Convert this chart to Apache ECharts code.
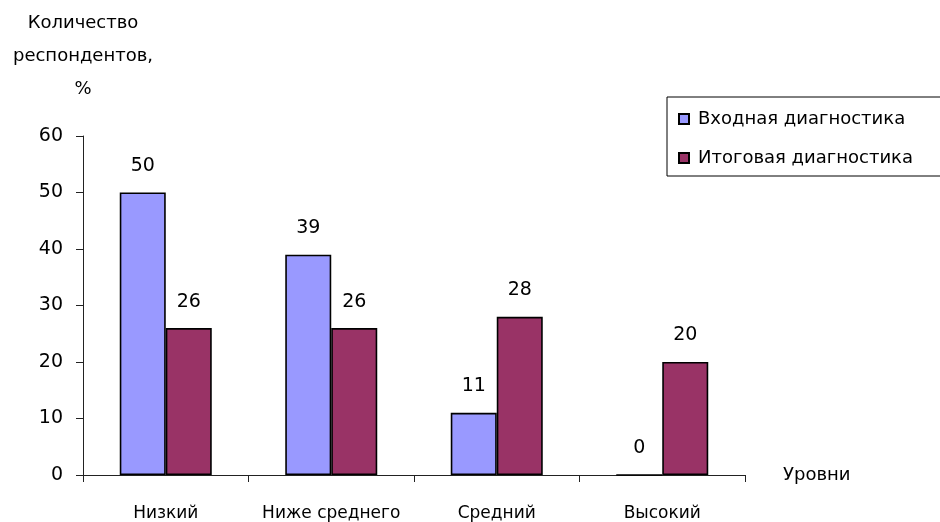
<!DOCTYPE html>
<html>
<head>
<meta charset="utf-8">
<script src="https://cdn.jsdelivr.net/npm/echarts@6/dist/echarts.min.js"></script>
<style>
html,body{margin:0;padding:0;background:#fff;}
#chart{width:940px;height:522px;}
</style>
</head>
<body>
<div id="chart"></div>
<script>
const categories = ['Низкий', 'Ниже среднего', 'Средний', 'Высокий'];
const seriesNames = ['Входная диагностика', 'Итоговая диагностика'];
const inputValues = [50, 39, 11, 0];
const finalValues = [26, 26, 28, 20];
const yTicks = [0, 10, 20, 30, 40, 50, 60];
const yAxisTitle = 'Количество\nреспондентов,\n%';
const xAxisTitle = 'Уровни';

const FONT = 'DejaVu Sans';
const chart = echarts.init(document.getElementById('chart'), null, {renderer: 'canvas'});

const labelCfg = {
  show: true, position: 'top', distance: 17,
  color: '#000', fontFamily: FONT, fontSize: 19
};

chart.setOption({
  animation: false,
  backgroundColor: '#fff',
  textStyle: {fontFamily: FONT},
  grid: {left: 83, right: 195, top: 136, bottom: 47, containLabel: false},
  legend: {
    orient: 'vertical',
    left: 667, top: 97,
    padding: [12, 60, 8, 11],
    itemGap: 19,
    itemWidth: 10, itemHeight: 10,
    icon: 'rect',
    borderColor: '#000', borderWidth: 1,
    textStyle: {color: '#000', fontFamily: FONT, fontSize: 18, lineHeight: 20, padding: [0, 0, 0, 4]},
    data: seriesNames
  },
  xAxis: {
    type: 'category',
    data: categories,
    axisLine: {show: true, lineStyle: {color: '#222', width: 1}},
    axisTick: {show: true, interval: 0, length: 7, lineStyle: {color: '#222'}},
    axisLabel: {interval: 0, color: '#000', fontFamily: FONT, fontSize: 17, margin: 30},
    name: xAxisTitle,
    nameLocation: 'end',
    nameGap: 38,
    nameTextStyle: {color: '#000', fontFamily: FONT, fontSize: 18, align: 'left', verticalAlign: 'middle', padding: [14, 0, 0, 0]}
  },
  yAxis: {
    type: 'value',
    min: yTicks[0], max: yTicks[yTicks.length - 1], interval: 10,
    splitLine: {show: false},
    axisLine: {show: true, lineStyle: {color: '#222', width: 1}},
    axisTick: {show: true, inside: false, length: 7, lineStyle: {color: '#222'}},
    axisLabel: {color: '#000', fontFamily: FONT, fontSize: 19, margin: 20},
    name: yAxisTitle,
    nameLocation: 'end',
    nameGap: 30,
    nameTextStyle: {color: '#000', fontFamily: FONT, fontSize: 18, lineHeight: 33, align: 'center', verticalAlign: 'bottom'}
  },
  series: [
    {
      name: seriesNames[0], type: 'bar', data: inputValues,
      barWidth: 46, barGap: '0%',
      itemStyle: {color: '#9999FF', borderColor: '#000', borderWidth: 1.6},
      label: labelCfg
    },
    {
      name: seriesNames[1], type: 'bar', data: finalValues,
      barWidth: 46, barGap: '0%',
      itemStyle: {color: '#993366', borderColor: '#000', borderWidth: 1.6},
      label: labelCfg
    }
  ]
});
</script>
</body>
</html>
